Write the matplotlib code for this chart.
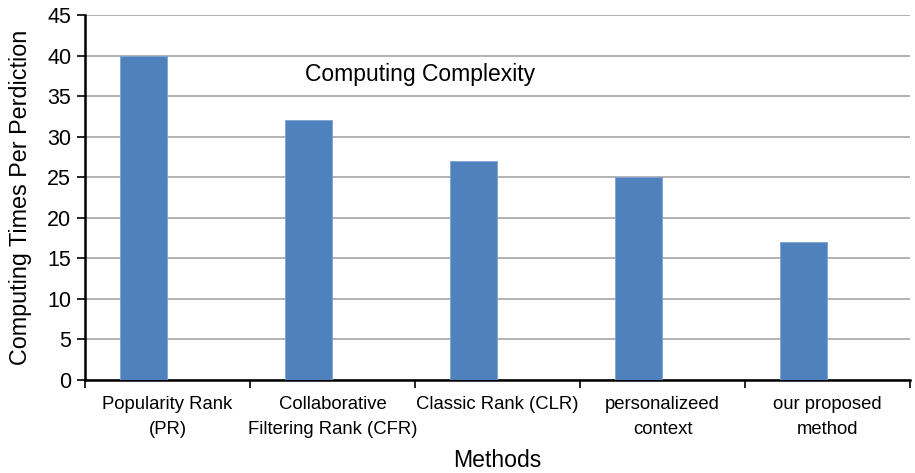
import matplotlib
matplotlib.use("Agg")
import matplotlib.pyplot as plt
import numpy as np

# data
methods = [
    "Popularity Rank\n(PR)",
    "Collaborative\nFiltering Rank (CFR)",
    "Classic Rank (CLR)",
    "personalizeed\ncontext",
    "our proposed\nmethod",
]
times = [40, 32, 27, 25, 17]

plt.rcParams['font.family'] = ['Liberation Sans', 'DejaVu Sans']

fig = plt.figure(figsize=(9.15, 4.73), dpi=100)
ax = fig.add_axes([0.093, 0.197, 0.9015, 0.771])

x = np.arange(len(methods))
ax.bar(x - 0.1455, times, width=0.285, color='#4F81BD', edgecolor='#7FA3D3', linewidth=0.6, zorder=3)

ax.set_xlim(-0.5, len(methods) - 0.5)
ax.set_ylim(0, 45)
ax.set_yticks(np.arange(0, 46, 5))
ax.yaxis.grid(True, color='#A6A6A6', linewidth=1.2, zorder=0)
ax.set_axisbelow(True)

# category boundary ticks, labels centred in slots
ax.set_xticks(np.arange(-0.5, len(methods), 1.0))
ax.set_xticklabels([])
ax.set_xticks(x, minor=True)
ax.set_xticklabels(methods, minor=True, fontsize=13.3, linespacing=1.6)
ax.tick_params(axis='x', which='minor', length=0, pad=12)
ax.tick_params(axis='x', which='major', length=6, width=1.2, direction='out')
ax.tick_params(axis='y', length=6, width=1.2, labelsize=15.5, pad=4)

for s in ['top', 'right']:
    ax.spines[s].set_visible(False)
for s in ['left', 'bottom']:
    ax.spines[s].set_linewidth(1.8)

ax.set_ylabel('Computing Times Per Perdiction', fontsize=16.8, labelpad=11)
ax.set_xlabel('Methods', fontsize=16.6, labelpad=8)

ax.text(1.53, 37.7, 'Computing Complexity', fontsize=16.5, ha='center', va='center',
        bbox=dict(facecolor='white', edgecolor='none', pad=4), zorder=4)

fig.savefig('out.png', dpi=100)
